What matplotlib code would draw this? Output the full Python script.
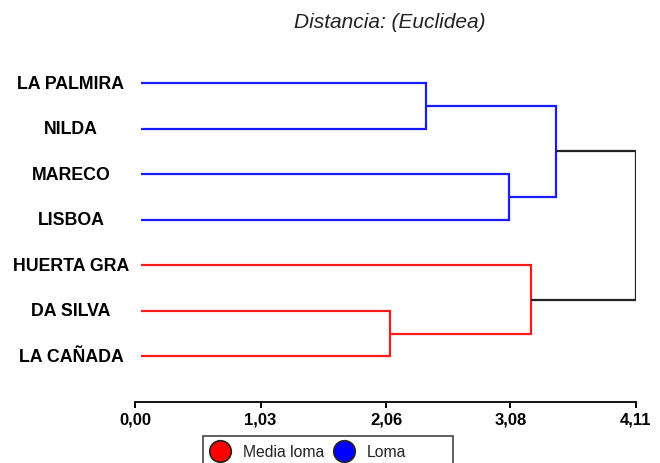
import matplotlib
matplotlib.use("Agg")
import matplotlib.pyplot as plt
from matplotlib.transforms import blended_transform_factory
from matplotlib.patches import Rectangle
from matplotlib.lines import Line2D

plt.rcParams['font.family'] = ['Liberation Sans', 'DejaVu Sans']

# ---- data ----
leaves = ["LA PALMIRA", "NILDA", "MARECO", "LISBOA", "HUERTA GRA", "DA SILVA", "LA CAÑADA"]
leaf_group = ["Loma", "Loma", "Loma", "Loma", "Media loma", "Media loma", "Media loma"]
merge_a = [0, 2, 5, 7, 4, 10]
merge_b = [1, 3, 6, 8, 9, 11]
merge_h = [2.39, 3.07, 2.09, 3.45, 3.25, 4.11]
ticks = [0.00, 1.03, 2.06, 3.08, 4.11]
tick_labels = ["0,00", "1,03", "2,06", "3,08", "4,11"]
legend_groups = ["Media loma", "Loma"]
title = "Distancia: (Euclidea)"

group_color = {"Media loma": "#ff1a1a", "Loma": "#1a1aff"}
marker_color = {"Media loma": "#ff0000", "Loma": "#0000ff"}
LEAF_START = 0.05

fig = plt.figure(figsize=(6.6, 4.64), dpi=100)
W, H = 660, 464
ax = fig.add_axes([135 / W, 1 - 403 / H, 501 / W, (403 - 60) / H])

n = len(leaves)
pos = {i: float(i) for i in range(n)}
height = {i: LEAF_START for i in range(n)}
members = {i: {leaf_group[i]} for i in range(n)}

for k, (a, b, h) in enumerate(zip(merge_a, merge_b, merge_h)):
    cid = n + k
    grp = members[a] | members[b]
    col = group_color[next(iter(grp))] if len(grp) == 1 else "#222222"
    ya, yb = pos[a], pos[b]
    ax.plot([height[a], h, h, height[b]], [ya, ya, yb, yb], color=col, lw=1.6,
            solid_joinstyle='miter', solid_capstyle='butt')
    pos[cid] = (ya + yb) / 2
    height[cid] = h
    members[cid] = grp

ax.set_xlim(0, 4.11)
ax.set_ylim(7, -0.53)
for s in ["top", "right", "left"]:
    ax.spines[s].set_visible(False)
ax.spines["bottom"].set_linewidth(1.4)
ax.spines["bottom"].set_color("#111111")
ax.set_yticks([])
ax.set_xticks(ticks)
ax.set_xticklabels(tick_labels, fontsize=12, fontweight="bold")
ax.tick_params(axis="x", direction="out", length=4, width=1.4, pad=3)

trans = blended_transform_factory(fig.transFigure, ax.transData)
for i, name in enumerate(leaves):
    ax.text(71 / W, i, name, transform=trans, ha="center", va="center",
            fontsize=12.8, fontweight="bold", clip_on=False)

fig.text(390 / W, 1 - 22 / H, title, ha="center", va="center",
         fontsize=15, style="italic", color="#222222")

# legend (drawn in figure pixel coords, partly cut at the bottom like the reference)
box = Rectangle((203 / W, 1 - 480 / H), (453 - 203) / W, (480 - 437) / H,
                transform=fig.transFigure, fill=False, edgecolor="#444444", lw=1.2)
fig.add_artist(box)
marker_x = [220, 344]
text_x = [243, 367]
for g, mx, tx in zip(legend_groups, marker_x, text_x):
    fig.add_artist(Line2D([mx / W], [1 - 452 / H], transform=fig.transFigure,
                          marker="o", markersize=15.5, markerfacecolor=marker_color[g],
                          markeredgecolor="#222222", markeredgewidth=1.2, linestyle="none"))
    fig.text(tx / W, 1 - 453 / H, g, ha="left", va="center", fontsize=11.3, color="#222222")

fig.savefig("out.png", dpi=100)
